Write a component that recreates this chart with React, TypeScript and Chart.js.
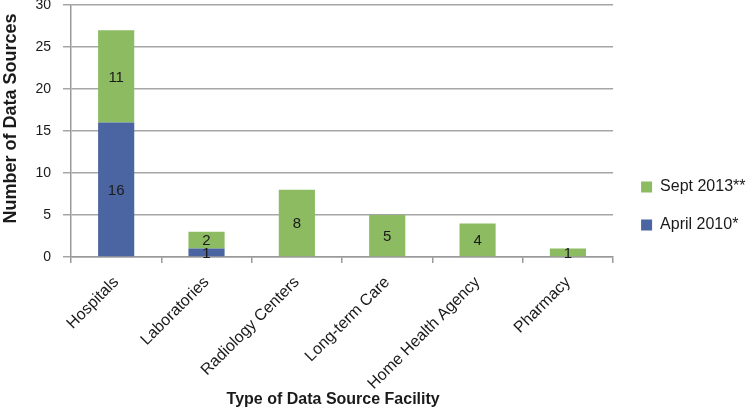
import React, { useEffect, useRef } from "react";
import { Chart, registerables } from "chart.js";

Chart.register(...registerables);

const categories = ["Hospitals", "Laboratories", "Radiology Centers", "Long-term Care", "Home Health Agency", "Pharmacy"];
const april2010 = [16, 1, 0, 0, 0, 0];
const sept2013 = [11, 2, 8, 5, 4, 1];
const yTicks = [0, 5, 10, 15, 20, 25, 30];

const FONT = "'Liberation Sans', Arial, Helvetica, sans-serif";

const dataLabels = {
  id: "dataLabels",
  afterDatasetsDraw(chart: any) {
    const ctx = chart.ctx;
    ctx.save();
    ctx.font = `15px ${FONT}`;
    ctx.fillStyle = "#1a1a1a";
    ctx.textAlign = "center";
    ctx.textBaseline = "middle";
    chart.data.datasets.forEach((ds: any, di: number) => {
      const meta = chart.getDatasetMeta(di);
      meta.data.forEach((bar: any, i: number) => {
        const v = ds.data[i];
        if (!v) return;
        ctx.fillText(String(v), bar.x, (bar.y + bar.base) / 2 + 1);
      });
    });
    ctx.restore();
  },
};

const legendNudge = {
  id: "legendNudge",
  afterLayout(chart: any) {
    const lg = chart.legend;
    if (!lg) return;
    lg.left += 6;
    lg.right += 6;
    lg.top -= 5;
    lg.bottom -= 5;
  },
};

export default function App() {
  const ref = useRef<HTMLCanvasElement>(null);
  useEffect(() => {
    const chart = new Chart(ref.current!, {
      type: "bar",
      data: {
        labels: categories,
        datasets: [
          { label: "April 2010*", data: april2010, backgroundColor: "#4A65A1", barPercentage: 0.4, categoryPercentage: 1 },
          { label: "Sept 2013**", data: sept2013, backgroundColor: "#8CBB62", barPercentage: 0.4, categoryPercentage: 1 },
        ],
      },
      options: {
        animation: false,
        responsive: false,
        layout: { padding: { top: 5, right: -3.5, bottom: 0, left: 0 } },
        plugins: {
          tooltip: { enabled: false },
          legend: {
            position: "right",
            reverse: true,
            labels: {
              boxWidth: 11,
              boxHeight: 11,
              padding: 22,
              color: "#1a1a1a",
              font: { family: FONT, size: 16 },
            },
          },
        },
        scales: {
          x: {
            stacked: true,
            grid: { display: true, drawOnChartArea: false, drawTicks: true, tickLength: 6, color: "#9a9a9a", lineWidth: 1.5 },
            border: { color: "#9a9a9a", width: 1.5 },
            ticks: { color: "#1a1a1a", font: { family: FONT, size: 16 }, maxRotation: 45, minRotation: 45, padding: 10 },
            title: { display: true, text: "Type of Data Source Facility    ", color: "#1a1a1a", font: { family: FONT, size: 16, weight: "bold" }, padding: { top: 0, bottom: 8 } },
            afterFit(scale: any) {
              scale.height = 160;
            },
          },
          y: {
            stacked: true,
            min: 0,
            max: 30,
            afterBuildTicks(scale: any) {
              scale.ticks = yTicks.map((v) => ({ value: v }));
            },
            grid: { color: "#a6a6a6", lineWidth: 1.5, tickLength: 8 },
            border: { color: "#9a9a9a", width: 1.5 },
            ticks: { color: "#1a1a1a", font: { family: FONT, size: 14 }, padding: 12 },
            title: { display: true, text: "     Number of Data Sources", color: "#1a1a1a", font: { family: FONT, size: 18, weight: "bold" }, padding: 0 },
            afterFit(scale: any) {
              scale.width = 71;
              scale.paddingTop = 0;
              scale.paddingBottom = 0;
            },
          },
        },
      },
      plugins: [dataLabels, legendNudge],
    });
    return () => chart.destroy();
  }, []);
  return (
    <div style={{ position: "absolute", left: 0, top: 0, width: 746, height: 417 }}>
      <canvas ref={ref} width={746} height={417} style={{ display: "block" }} />
    </div>
  );
}
